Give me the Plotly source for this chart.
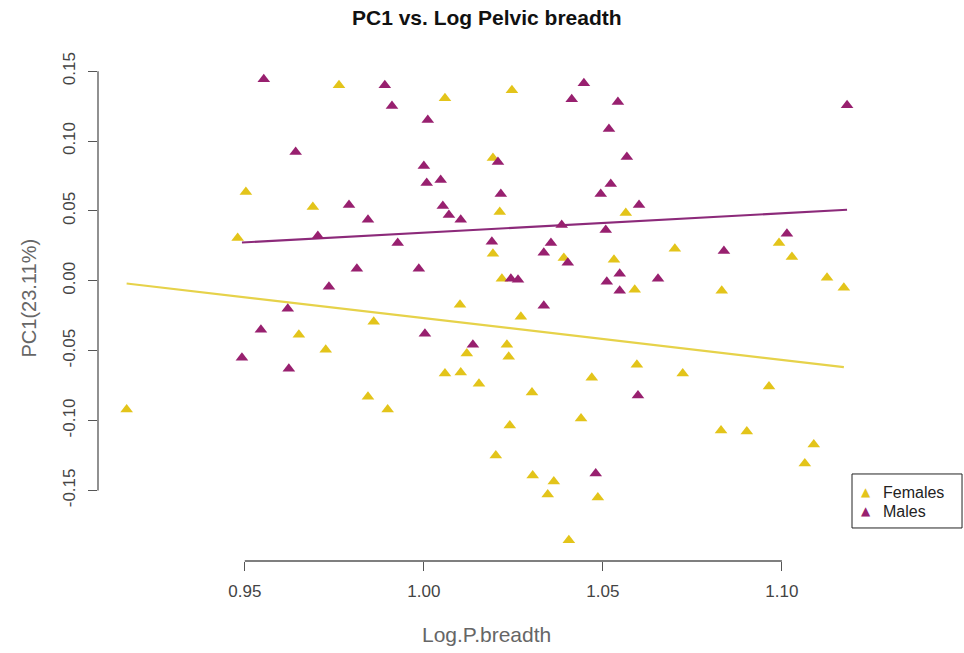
import numpy as np
import plotly.graph_objects as go

# Log pelvic breadth (x) and PC1 score (y) for each specimen
female_x = [0.9763, 1.0059, 1.0246, 0.9503, 0.9690, 0.9480, 1.0193, 1.0212, 1.0193, 1.0218,
            1.0101, 1.0564, 1.0531, 1.0391, 1.0589, 1.0701, 1.0832, 1.0992, 1.1028, 1.1126,
            1.1173, 0.9651, 0.9726, 0.9170, 1.0271, 0.9860, 1.0120, 1.0232, 1.0237, 1.0059,
            1.0103, 1.0154, 1.0302, 1.0469, 0.9844, 0.9899, 1.0240, 1.0439, 1.0201, 1.0304,
            1.0363, 1.0346, 1.0486, 1.0405, 1.0595, 1.0723, 1.0964, 1.0830, 1.0902, 1.1089,
            1.1064]
female_y = [0.1400, 0.1307, 0.1364, 0.0636, 0.0529, 0.0307, 0.0879, 0.0493, 0.0193, 0.0014,
            -0.0171, 0.0486, 0.0150, 0.0164, -0.0064, 0.0229, -0.0071, 0.0271, 0.0171, 0.0021,
            -0.0050, -0.0386, -0.0493, -0.0921, -0.0257, -0.0293, -0.0521, -0.0457, -0.0543, -0.0664,
            -0.0657, -0.0736, -0.0800, -0.0693, -0.0829, -0.0921, -0.1036, -0.0986, -0.1250, -0.1393,
            -0.1436, -0.1529, -0.1550, -0.1857, -0.0600, -0.0664, -0.0757, -0.1071, -0.1079, -0.1171,
            -0.1307]

male_x = [0.9553, 0.9891, 0.9911, 1.0011, 1.0447, 1.0413, 1.0542, 1.0517, 1.0567, 1.0522,
          1.0494, 1.0601, 1.0508, 1.1182, 0.9642, 0.9791, 0.9704, 0.9813, 0.9735, 0.9620,
          0.9545, 0.9492, 0.9623, 1.0000, 1.0047, 1.0008, 1.0053, 1.0070, 1.0103, 0.9844,
          0.9927, 0.9986, 1.0190, 1.0215, 1.0207, 1.0385, 1.0355, 1.0335, 1.0402, 1.0243,
          1.0263, 1.0335, 1.0547, 1.0511, 1.0547, 1.0654, 1.0838, 1.1014, 1.0003, 1.0137,
          1.0480, 1.0598]
male_y = [0.1443, 0.1400, 0.1250, 0.1150, 0.1414, 0.1300, 0.1279, 0.1086, 0.0886, 0.0693,
          0.0621, 0.0543, 0.0364, 0.1257, 0.0921, 0.0543, 0.0321, 0.0086, -0.0043, -0.0200,
          -0.0350, -0.0550, -0.0629, 0.0821, 0.0721, 0.0700, 0.0536, 0.0471, 0.0436, 0.0436,
          0.0271, 0.0086, 0.0279, 0.0621, 0.0850, 0.0400, 0.0271, 0.0200, 0.0129, 0.0014,
          0.0007, -0.0179, 0.0050, -0.0007, -0.0071, 0.0014, 0.0214, 0.0336, -0.0379, -0.0457,
          -0.1379, -0.0821]

x_ticks = [0.95, 1.00, 1.05, 1.10]
x_tick_text = ["0.95", "1.00", "1.05", "1.10"]
y_ticks = [-0.15, -0.10, -0.05, 0.00, 0.05, 0.10, 0.15]
y_tick_text = ["-0.15", "-0.10", "-0.05", "0.00", "0.05", "0.10", "0.15"]

groups = ["Females", "Males"]

FEMALE = "#E3C41A"
MALE = "#98206F"
FEMALE_LINE = "#E6D24A"
MALE_LINE = "#8C2A7A"
FONT = "Liberation Sans, Arial, sans-serif"


def fit_line(xs, ys):
    """Least-squares line over the observed x range of a group."""
    slope, intercept = np.polyfit(xs, ys, 1)
    xr = np.array([min(xs), max(xs)])
    return xr, intercept + slope * xr


fig = go.Figure()

fx, fy = fit_line(female_x, female_y)
mx, my = fit_line(male_x, male_y)
fig.add_trace(go.Scatter(x=fx, y=fy, mode="lines", showlegend=False, hoverinfo="skip",
                         line=dict(color=FEMALE_LINE, width=2.2)))
fig.add_trace(go.Scatter(x=mx, y=my, mode="lines", showlegend=False, hoverinfo="skip",
                         line=dict(color=MALE_LINE, width=2.2)))

fig.add_trace(go.Scatter(x=female_x, y=female_y, mode="markers", name=groups[0],
                         showlegend=False,
                         marker=dict(symbol="triangle-up", size=11, color=FEMALE)))
fig.add_trace(go.Scatter(x=male_x, y=male_y, mode="markers", name=groups[1],
                         showlegend=False,
                         marker=dict(symbol="triangle-up", size=11, color=MALE)))

# Axis lines span only the labelled tick range, base-graphics style
axis_color = "#555555"
shapes = [
    dict(type="line", xref="x", yref="paper", x0=x_ticks[0], x1=x_ticks[-1], y0=0, y1=0,
         line=dict(color=axis_color, width=1.3)),
    dict(type="line", xref="paper", yref="y", x0=0, x1=0, y0=y_ticks[0], y1=y_ticks[-1],
         line=dict(color=axis_color, width=1.3)),
    # legend box, sitting outside the lower right corner of the plot region
    dict(type="rect", xref="paper", yref="paper", x0=0.9704, x1=1.112, y0=0.0659, y1=0.1737,
         fillcolor="white", line=dict(color="#222222", width=1)),
]

annotations = [
    dict(text="<b>PC1 vs. Log Pelvic breadth</b>", xref="paper", yref="paper",
         x=0.5, y=1, yshift=43, xanchor="center", yanchor="middle", showarrow=False,
         font=dict(size=21, color="#111111", family=FONT)),
    dict(text="Log.P.breadth", xref="paper", yref="paper", x=0.5, y=0, yshift=-73,
         xanchor="center", yanchor="middle", showarrow=False,
         font=dict(size=21, color="#666666", family=FONT)),
    dict(text="PC1(23.11%)", xref="paper", yref="paper", x=0, y=0.5, yshift=12, xshift=-70,
         xanchor="center", yanchor="middle", textangle=-90, showarrow=False,
         font=dict(size=20, color="#666666", family=FONT)),
]

# legend entries: a filled triangle key followed by the group name
for label, colour, ypos in zip(groups, [FEMALE, MALE], [0.1377, 0.0998]):
    annotations.append(dict(text="\u25B2", xref="paper", yref="paper", x=0.9884, y=ypos,
                            xanchor="center", yanchor="middle", showarrow=False,
                            font=dict(size=12, color=colour, family="DejaVu Sans")))
    annotations.append(dict(text=label, xref="paper", yref="paper", x=1.0077, y=ypos,
                            xanchor="left", yanchor="middle", showarrow=False,
                            font=dict(size=16, color="#222222", family=FONT)))

fig.update_layout(
    width=964, height=653,
    margin=dict(l=98, r=89, t=60, b=92),
    paper_bgcolor="white", plot_bgcolor="white",
    font=dict(family=FONT, color="#333333"),
    shapes=shapes,
    annotations=annotations,
    showlegend=False,
)

fig.update_xaxes(range=[0.909, 1.126], showgrid=False, zeroline=False, showline=False,
                 tickmode="array", tickvals=x_ticks, ticktext=x_tick_text,
                 ticks="outside", ticklen=9, tickwidth=1.3, tickcolor=axis_color,
                 tickfont=dict(size=17, color="#444444", family=FONT),
                 ticklabelstandoff=6)
fig.update_yaxes(range=[-0.2005, 0.158], showgrid=False, zeroline=False, showline=False,
                 tickmode="array", tickvals=y_ticks, ticktext=y_tick_text,
                 ticks="outside", ticklen=9, tickwidth=1.3, tickcolor=axis_color,
                 tickangle=-90, tickfont=dict(size=17, color="#444444", family=FONT),
                 ticklabelstandoff=6)

fig.write_html("out.html")
